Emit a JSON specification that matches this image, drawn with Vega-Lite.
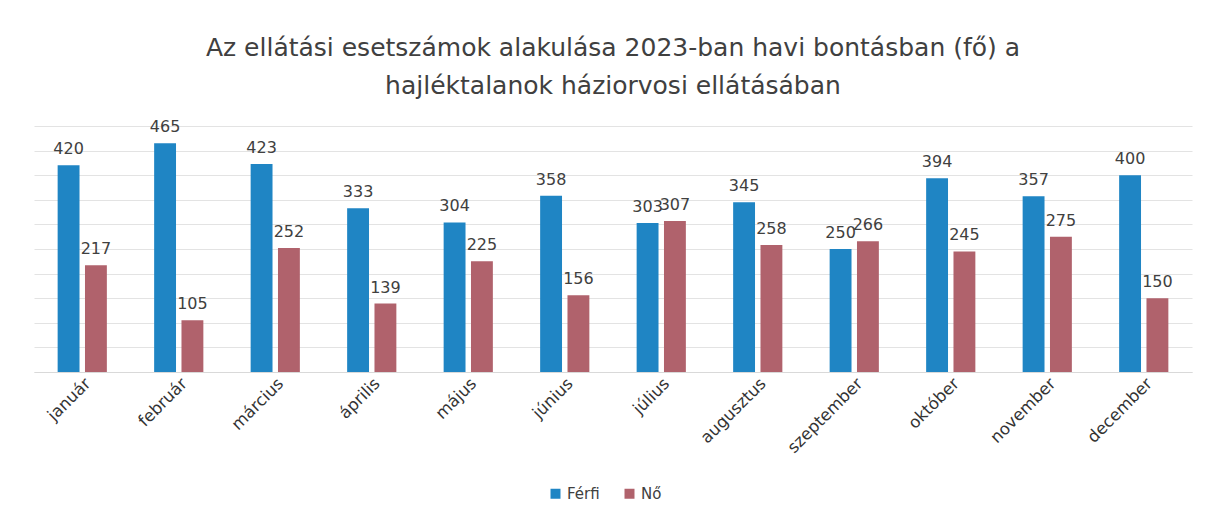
{
  "$schema": "https://vega.github.io/schema/vega-lite/v6.json",
  "width": 1158,
  "height": 246,
  "autosize": {"type": "pad"},
  "padding": {"left": 34, "top": 36, "right": 18, "bottom": 5},
  "background": "white",
  "title": {
    "text": ["Az ellátási esetszámok alakulása 2023-ban havi bontásban (fő) a", "hajléktalanok háziorvosi ellátásában"],
    "font": "DejaVu Sans",
    "fontSize": 25,
    "fontWeight": "normal",
    "color": "#404040",
    "lineHeight": 38,
    "anchor": "middle",
    "offset": 20
  },
  "data": {
    "values": [
      {"honap": "január", "nem": "Férfi", "fo": 420},
      {"honap": "január", "nem": "Nő", "fo": 217},
      {"honap": "február", "nem": "Férfi", "fo": 465},
      {"honap": "február", "nem": "Nő", "fo": 105},
      {"honap": "március", "nem": "Férfi", "fo": 423},
      {"honap": "március", "nem": "Nő", "fo": 252},
      {"honap": "április", "nem": "Férfi", "fo": 333},
      {"honap": "április", "nem": "Nő", "fo": 139},
      {"honap": "május", "nem": "Férfi", "fo": 304},
      {"honap": "május", "nem": "Nő", "fo": 225},
      {"honap": "június", "nem": "Férfi", "fo": 358},
      {"honap": "június", "nem": "Nő", "fo": 156},
      {"honap": "július", "nem": "Férfi", "fo": 303},
      {"honap": "július", "nem": "Nő", "fo": 307},
      {"honap": "augusztus", "nem": "Férfi", "fo": 345},
      {"honap": "augusztus", "nem": "Nő", "fo": 258},
      {"honap": "szeptember", "nem": "Férfi", "fo": 250},
      {"honap": "szeptember", "nem": "Nő", "fo": 266},
      {"honap": "október", "nem": "Férfi", "fo": 394},
      {"honap": "október", "nem": "Nő", "fo": 245},
      {"honap": "november", "nem": "Férfi", "fo": 357},
      {"honap": "november", "nem": "Nő", "fo": 275},
      {"honap": "december", "nem": "Férfi", "fo": 400},
      {"honap": "december", "nem": "Nő", "fo": 150}
    ]
  },
  "encoding": {
    "x": {
      "field": "honap",
      "type": "nominal",
      "sort": null,
      "scale": {"paddingInner": 0.49, "paddingOuter": 0.245},
      "axis": {
        "title": null,
        "labelAngle": -45,
        "labelFont": "DejaVu Sans",
        "labelFontSize": 16.5,
        "labelColor": "#333333",
        "ticks": false,
        "domain": true,
        "domainColor": "#d9d9d9",
        "labelPadding": 3
      }
    },
    "xOffset": {
      "field": "nem",
      "type": "nominal",
      "scale": {"paddingInner": 0.2, "paddingOuter": 0}
    },
    "y": {
      "field": "fo",
      "type": "quantitative",
      "scale": {"domain": [0, 500], "nice": false},
      "axis": {
        "title": null,
        "labels": false,
        "ticks": false,
        "domain": false,
        "grid": true,
        "gridColor": "#e3e3e3",
        "values": [0, 50, 100, 150, 200, 250, 300, 350, 400, 450, 500]
      }
    }
  },
  "layer": [
    {
      "mark": {"type": "bar"},
      "encoding": {
        "color": {
          "field": "nem",
          "type": "nominal",
          "scale": {"domain": ["Férfi", "Nő"], "range": ["#1f85c4", "#b0626c"]},
          "legend": {
            "title": null,
            "orient": "none",
            "legendX": 514,
            "legendY": 360,
            "direction": "horizontal",
            "symbolType": "square",
            "symbolSize": 100,
            "labelFont": "DejaVu Sans",
            "labelFontSize": 15,
            "labelColor": "#404040",
            "columnPadding": 22
          }
        }
      }
    },
    {
      "mark": {
        "type": "text",
        "baseline": "bottom",
        "dy": -8,
        "font": "DejaVu Sans",
        "fontSize": 16,
        "color": "#404040"
      },
      "encoding": {
        "text": {"field": "fo", "type": "quantitative"}
      }
    }
  ],
  "config": {
    "view": {"stroke": null}
  }
}
